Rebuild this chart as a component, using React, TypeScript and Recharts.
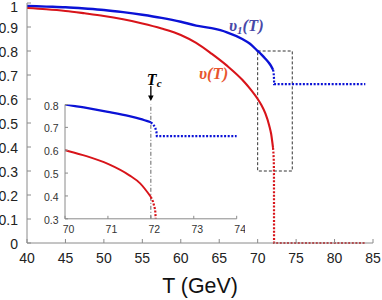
import React from 'react';
import { LineChart, Line, XAxis, YAxis, ReferenceArea, ReferenceLine } from 'recharts';

// temperature (GeV) and vev ratios
const tBlue = [40, 42.5, 45, 47.5, 50, 52.5, 55, 57.5, 60, 62, 64, 66, 68, 69, 70, 70.5, 71, 71.5, 71.75, 72];
const vBlue = [0.988, 0.985, 0.982, 0.977, 0.971, 0.962, 0.951, 0.938, 0.922, 0.906, 0.895, 0.878, 0.85, 0.83, 0.8, 0.785, 0.768, 0.749, 0.737, 0.722];
const tBlueJump = [72, 72.05, 72.1, 72.13, 72.14, 84];
const vBlueJump = [0.722, 0.714, 0.7, 0.68, 0.662, 0.662];

const tRed = [40, 42.5, 45, 47.5, 50, 52.5, 55, 57.5, 60, 62, 64, 66, 68, 69, 70, 70.5, 71, 71.5, 71.75, 72];
const vRed = [0.979, 0.974, 0.967, 0.957, 0.946, 0.932, 0.915, 0.894, 0.867, 0.834, 0.789, 0.739, 0.68, 0.643, 0.6, 0.574, 0.54, 0.49, 0.455, 0.396];
const tRedJump = [72, 72.05, 72.1, 72.12, 72.13, 84];
const vRedJump = [0.396, 0.375, 0.34, 0.28, 0, 0];

const mainXTicks = [40, 45, 50, 55, 60, 65, 70, 75, 80, 85];
const mainYTicks = [0, 0.1, 0.2, 0.3, 0.4, 0.5, 0.6, 0.7, 0.8, 0.9, 1];
const insetXTicks = [70, 71, 72, 73, 74];
const insetYTicks = [0.3, 0.4, 0.5, 0.6, 0.7, 0.8];
const tCritical = 72;

const toRows = (ts: number[], vs: number[]) => ts.map((t, i) => ({ t, v: vs[i] }));
const blueSolid = toRows(tBlue, vBlue);
const blueDotted = toRows(tBlueJump, vBlueJump);
const redSolid = toRows(tRed, vRed);
const redDotted = toRows(tRedJump, vRedJump);

const FRAME = '#8a8a8a';
const BLUE = '#0b12d6';
const RED = '#d8141a';
const SANS = '"Liberation Sans", Arial, Helvetica, sans-serif';
const SERIF = '"Liberation Serif", "Times New Roman", serif';
const DOTS = '2 1.6';

const BottomTick = (p: any) => (
  <g>
    <line x1={p.x} y1={p.y} x2={p.x} y2={p.y - 4} stroke={FRAME} />
    <text x={p.x} y={p.y + 19.5} textAnchor="middle" fontSize={14} fontFamily={SANS} fill="#222">{p.payload.value}</text>
  </g>
);
const TopTick = (p: any) => <line x1={p.x} y1={p.y} x2={p.x} y2={p.y + 4} stroke={FRAME} />;
const LeftTick = (p: any) => (
  <g>
    <line x1={p.x} y1={p.y} x2={p.x + 4} y2={p.y} stroke={FRAME} />
    {/* top label sits a little lower so it stays inside the page */}
    <text x={p.x - 9} y={Math.max(p.y + 6, 12)} textAnchor="end" fontSize={14} fontFamily={SANS} fill="#222">{p.payload.value}</text>
  </g>
);
const RightTick = (p: any) => <line x1={p.x} y1={p.y} x2={p.x - 4} y2={p.y} stroke={FRAME} />;

const InsetBottomTick = (p: any) => (
  <g>
    <line x1={p.x} y1={p.y} x2={p.x} y2={p.y - 3} stroke={FRAME} />
    <text x={p.x + 3.5} y={p.y + 14} textAnchor="middle" fontSize={10.5} fontFamily={SANS} fill="#333">{p.payload.value}</text>
  </g>
);
const InsetLeftTick = (p: any) => (
  <g>
    <line x1={p.x} y1={p.y} x2={p.x + 3} y2={p.y} stroke={FRAME} />
    <text x={p.x - 6.5} y={p.y + 5} textAnchor="end" fontSize={10.5} fontFamily={SANS} fill="#333">{p.payload.value}</text>
  </g>
);
const InsetTopTick = (p: any) => <line x1={p.x} y1={p.y} x2={p.x} y2={p.y + 3} stroke={FRAME} />;
const InsetRightTick = (p: any) => <line x1={p.x} y1={p.y} x2={p.x - 3} y2={p.y} stroke={FRAME} />;

const AxisTitle = (p: any) => {
  const vb = p.viewBox || {};
  const cx = vb.x + vb.width / 2;
  return (
    <text transform={`translate(${cx},${vb.y + 50}) scale(0.93,1)`} textAnchor="middle" fontSize={23} fontFamily={SANS} fill="#111">
      T (GeV)
    </text>
  );
};

const TcMarker = (p: any) => {
  const vb = p.viewBox || {};
  const x = vb.x;
  const top = vb.y;
  return (
    <g>
      <line x1={x} y1={top - 18.5} x2={x} y2={top - 8} stroke="#000" strokeWidth={1.3} />
      <path d={`M${x - 2.8},${top - 9} L${x + 2.8},${top - 9} L${x},${top - 3.5} Z`} fill="#000" />
      <text x={x - 4} y={top - 19.5} fontFamily={SERIF} fontStyle="italic" fontWeight="bold" fontSize={16} fill="#000">
        T<tspan fontSize={11} dy={2}>c</tspan>
      </text>
    </g>
  );
};

const series = (w: number) => [
  <Line key="bs" data={blueSolid} dataKey="v" type="monotone" stroke={BLUE} strokeWidth={w} dot={false} isAnimationActive={false} />,
  <Line key="bd" data={blueDotted} dataKey="v" type="linear" stroke={BLUE} strokeWidth={2.2} strokeDasharray={DOTS} dot={false} isAnimationActive={false} />,
  <Line key="rs" data={redSolid} dataKey="v" type="monotone" stroke={RED} strokeWidth={w - 0.3} dot={false} isAnimationActive={false} />,
  <Line key="rd" data={redDotted} dataKey="v" type="linear" stroke={RED} strokeWidth={2.2} strokeDasharray={DOTS} dot={false} isAnimationActive={false} />,
];

export default function App() {
  return (
    <div style={{ position: 'absolute', left: 0, top: 0, width: 382, height: 300, background: '#fff' }}>
      <LineChart width={382} height={300} margin={{ top: 3, right: 9, bottom: 0, left: 0 }}>
        <XAxis xAxisId={0} dataKey="t" type="number" domain={[40, 85]} ticks={mainXTicks} interval={0}
          height={57} tickSize={0} tickMargin={0} tickLine={false} axisLine={{ stroke: FRAME }}
          tick={<BottomTick />} label={<AxisTitle />} />
        <XAxis xAxisId="top" orientation="top" dataKey="t" type="number" domain={[40, 85]} ticks={mainXTicks} interval={0}
          height={0} tickSize={0} tickMargin={0} tickLine={false} axisLine={{ stroke: FRAME }} tick={<TopTick />} />
        <YAxis yAxisId={0} type="number" domain={[0, 1]} ticks={mainYTicks} interval={0}
          width={27} tickSize={0} tickMargin={0} tickLine={false} axisLine={{ stroke: FRAME }} tick={<LeftTick />} />
        <YAxis yAxisId="right" orientation="right" type="number" domain={[0, 1]} ticks={mainYTicks} interval={0}
          width={0} tickSize={0} tickMargin={0} tickLine={false} axisLine={{ stroke: FRAME }} tick={<RightTick />} />
        <ReferenceArea x1={70} x2={74.5} y1={0.3} y2={0.8} fill="none" fillOpacity={0} stroke="#333" strokeDasharray="3 2" />
        {series(2.4)}
      </LineChart>

      <div style={{ position: 'absolute', left: 35, top: 68 }}>
        <LineChart width={210} height={172} margin={{ top: 36.5, right: 8.3, bottom: 0, left: 0 }}>
          <XAxis xAxisId={0} dataKey="t" type="number" domain={[70, 74]} allowDataOverflow ticks={insetXTicks} interval={0}
            height={21.2} tickSize={0} tickMargin={0} tickLine={false} axisLine={{ stroke: FRAME }} tick={<InsetBottomTick />} />
          <XAxis xAxisId="top" orientation="top" dataKey="t" type="number" domain={[70, 74]} ticks={insetXTicks} interval={0}
            height={0} tickSize={0} tickMargin={0} tickLine={false} axisLine={{ stroke: FRAME }} tick={<InsetTopTick />} />
          <YAxis yAxisId={0} type="number" domain={[0.3, 0.8]} allowDataOverflow ticks={insetYTicks} interval={0}
            width={30} tickSize={0} tickMargin={0} tickLine={false} axisLine={{ stroke: FRAME }} tick={<InsetLeftTick />} />
          <YAxis yAxisId="right" orientation="right" type="number" domain={[0.3, 0.8]} ticks={insetYTicks} interval={0}
            width={0} tickSize={0} tickMargin={0} tickLine={false} axisLine={{ stroke: FRAME }} tick={<InsetRightTick />} />
          <ReferenceLine x={tCritical} stroke="#666" strokeDasharray="4 2 1 2" label={<TcMarker />} />
          {series(2.2)}
        </LineChart>
      </div>

      <svg width={382} height={300} style={{ position: 'absolute', left: 0, top: 0, pointerEvents: 'none' }}>
        <text x={229} y={31} fontFamily={SERIF} fontStyle="italic" fontWeight="bold" fontSize={16.5} fill="#4848a8">
          υ<tspan fontSize={11} dy={3}>1</tspan><tspan dy={-3}>(T)</tspan>
        </text>
        <text x={199} y={79} fontFamily={SERIF} fontStyle="italic" fontWeight="bold" fontSize={16.5} fill="#e8552e">
          υ(T)
        </text>
      </svg>
    </div>
  );
}
